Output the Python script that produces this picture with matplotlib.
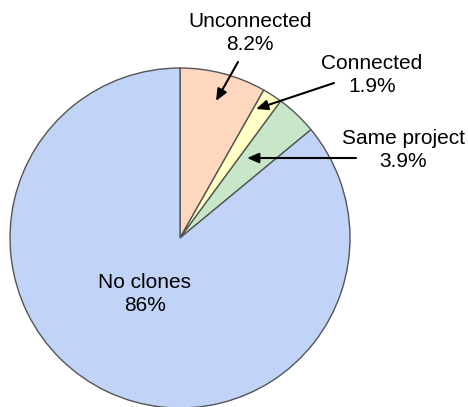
import matplotlib.pyplot as plt

labels = ["Unconnected", "Connected", "Same project", "No clones"]
values = [8.2, 1.9, 3.9, 86]
pct_text = ["8.2%", "1.9%", "3.9%", "86%"]
colors = ["#fdd8be", "#ffffc6", "#c8e6c8", "#c1d4f7"]

W, H = 468, 407
fig = plt.figure(figsize=(W / 100, H / 100), dpi=100)
ax = fig.add_axes([0, 0, 1, 1])

plt.rcParams["font.family"] = ["Liberation Sans", "DejaVu Sans"]

# pixel coords (origin top-left) -> data coords
def py(y):
    return H - y

ax.pie(values, colors=colors, startangle=90, counterclock=False,
       center=(180, py(238)), radius=170, frame=True,
       wedgeprops=dict(edgecolor="#555555", linewidth=1.0))
ax.set_xlim(0, W)
ax.set_ylim(0, H)
ax.set_aspect("equal")
ax.axis("off")

# label text positions and arrows (text pos, arrow start, arrow tip)
text_pos = [(250, 33), (372, 75), (403, 150), (145, 294)]
arrows = [((238, 62), (216, 101)),
          ((334, 83), (256, 109)),
          ((356, 158), (247, 158)),
          None]

for lab, pct, (tx, ty), arr in zip(labels, pct_text, text_pos, arrows):
    ax.text(tx, py(ty), lab + "\n" + pct, ha="center", va="center",
            fontsize=15, linespacing=1.32, color="black")
    if arr is not None:
        (x0, y0), (x1, y1) = arr
        ax.annotate("", xy=(x1, py(y1)), xytext=(x0, py(y0)),
                    arrowprops=dict(arrowstyle="-|>,head_length=0.7,head_width=0.3",
                                    color="black", lw=1.5, shrinkA=0, shrinkB=0))

fig.savefig("out.png", dpi=100)
